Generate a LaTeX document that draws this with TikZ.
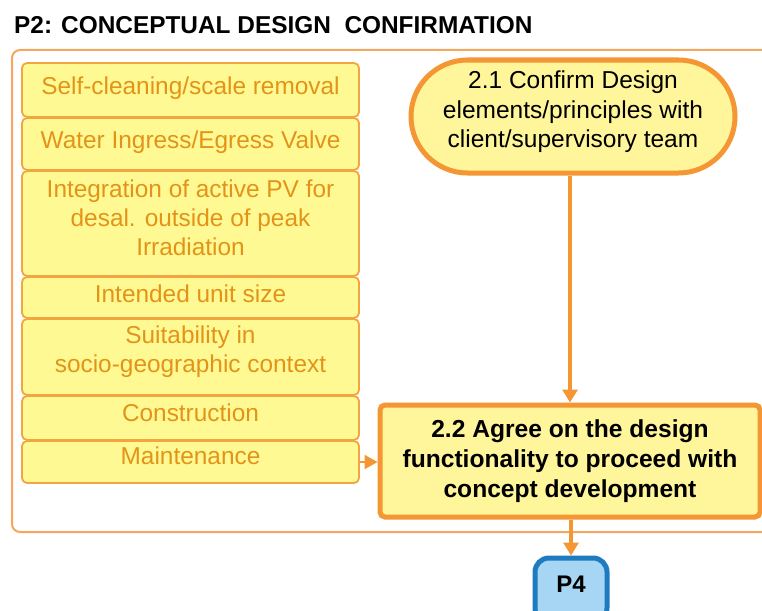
\documentclass[tikz,border=0pt]{standalone}
\usepackage{fontspec}
\setmainfont{Liberation Sans}
\usetikzlibrary{arrows.meta,shapes.misc}
\definecolor{itemfill}{HTML}{FFF994}
\definecolor{itemdraw}{HTML}{F2A541}
\definecolor{itemtext}{HTML}{E39418}
\definecolor{stepdraw}{HTML}{F39633}
\definecolor{stepfill}{HTML}{FFF59A}
\definecolor{framecol}{HTML}{F3A860}
\definecolor{pfill}{HTML}{A6D6F4}
\definecolor{pdraw}{HTML}{1E7BC0}
\newcommand{\liftup}[2][4pt]{\raisebox{#1}[\height][\depth]{\begin{tabular}{@{}c@{}}#2\end{tabular}}}
\tikzset{
  itembox/.style={draw=itemdraw, line width=1.8pt, fill=itemfill, rounded corners=5pt,
    minimum width=337pt, inner sep=0pt, align=center, text=itemtext,
    font=\fontsize{24.4}{29}\selectfont},
  stepstadium/.style={draw=stepdraw, line width=5pt, fill=stepfill, rounded rectangle,
    minimum width=324pt, minimum height=113pt, inner sep=0pt, align=center,
    font=\fontsize{24.5}{29.5}\selectfont},
  stepbox/.style={draw=stepdraw, line width=5pt, fill=stepfill, rounded corners=5pt,
    minimum width=380pt, minimum height=112pt, inner sep=0pt, align=center,
    font=\bfseries\fontsize{24.6}{30}\selectfont},
  pbox/.style={draw=pdraw, line width=5pt, fill=pfill, rounded corners=14pt,
    minimum width=72pt, minimum height=64pt, inner sep=0pt,
    font=\bfseries\fontsize{24}{29}\selectfont},
  flow/.style={draw=stepdraw, line width=4pt, -{Triangle[width=15pt,length=13pt]}},
  thinflow/.style={draw=stepdraw, line width=2pt, -{Triangle[width=14pt,length=13pt]}}
}
\begin{document}
\begin{tikzpicture}[x=1pt,y=-1pt]
\useasboundingbox (0,0) rectangle (762,610);
\clip (0,0) rectangle (762,610);
\fill[white] (0,0) rectangle (762,610);
% title
\node[anchor=base west, inner sep=0pt, font=\bfseries\fontsize{24.4}{29}\selectfont] (title) at (14,34) {P2: CONCEPTUAL DESIGN\ \ CONFIRMATION};
% frame
\draw[framecol, line width=2pt, rounded corners=8pt] (12,50) rectangle (780,532);
% items
\node[itembox, minimum height=54pt] (i1) at (190.5,90) {\liftup[1pt]{Self-cleaning/scale removal}};
\node[itembox, minimum height=52pt] (i2) at (190.5,144) {\liftup[1pt]{Water Ingress/Egress Valve}};
\node[itembox, minimum height=105pt] (i3) at (190.5,223.5) {\liftup[3pt]{Integration of active PV for\\desal. outside of peak\\Irradiation}};
\node[itembox, minimum height=41pt] (i4) at (190.5,297.5) {\liftup[1pt]{Intended unit size}};
\node[itembox, minimum height=76pt] (i5) at (190.5,357) {\liftup[5pt]{Suitability in\\socio-geographic context}};
\node[itembox, minimum height=44pt] (i6) at (190.5,418) {\liftup[2pt]{Construction}};
\node[itembox, minimum height=42pt] (i7) at (190.5,462) {\liftup[3pt]{Maintenance}};
% steps
\node[stepstadium] (s21) at (573,116.5) {\liftup[4pt]{2.1 Confirm Design\\elements/principles with\\client/supervisory team}};
\node[stepbox] (s22) at (570,461) {2.2 Agree on the design\\functionality to proceed with\\concept development};
\node[pbox] (p4) at (571,590) {\raisebox{6pt}[\height][\depth]{P4}};
% connectors
\draw[flow] (s21.south -| s22.north) -- (s22.north);
\draw[thinflow] (i7.east) -- (s22.west |- i7.east);
\draw[flow] (s22.south -| p4.north) -- (p4.north);
\end{tikzpicture}
\end{document}
